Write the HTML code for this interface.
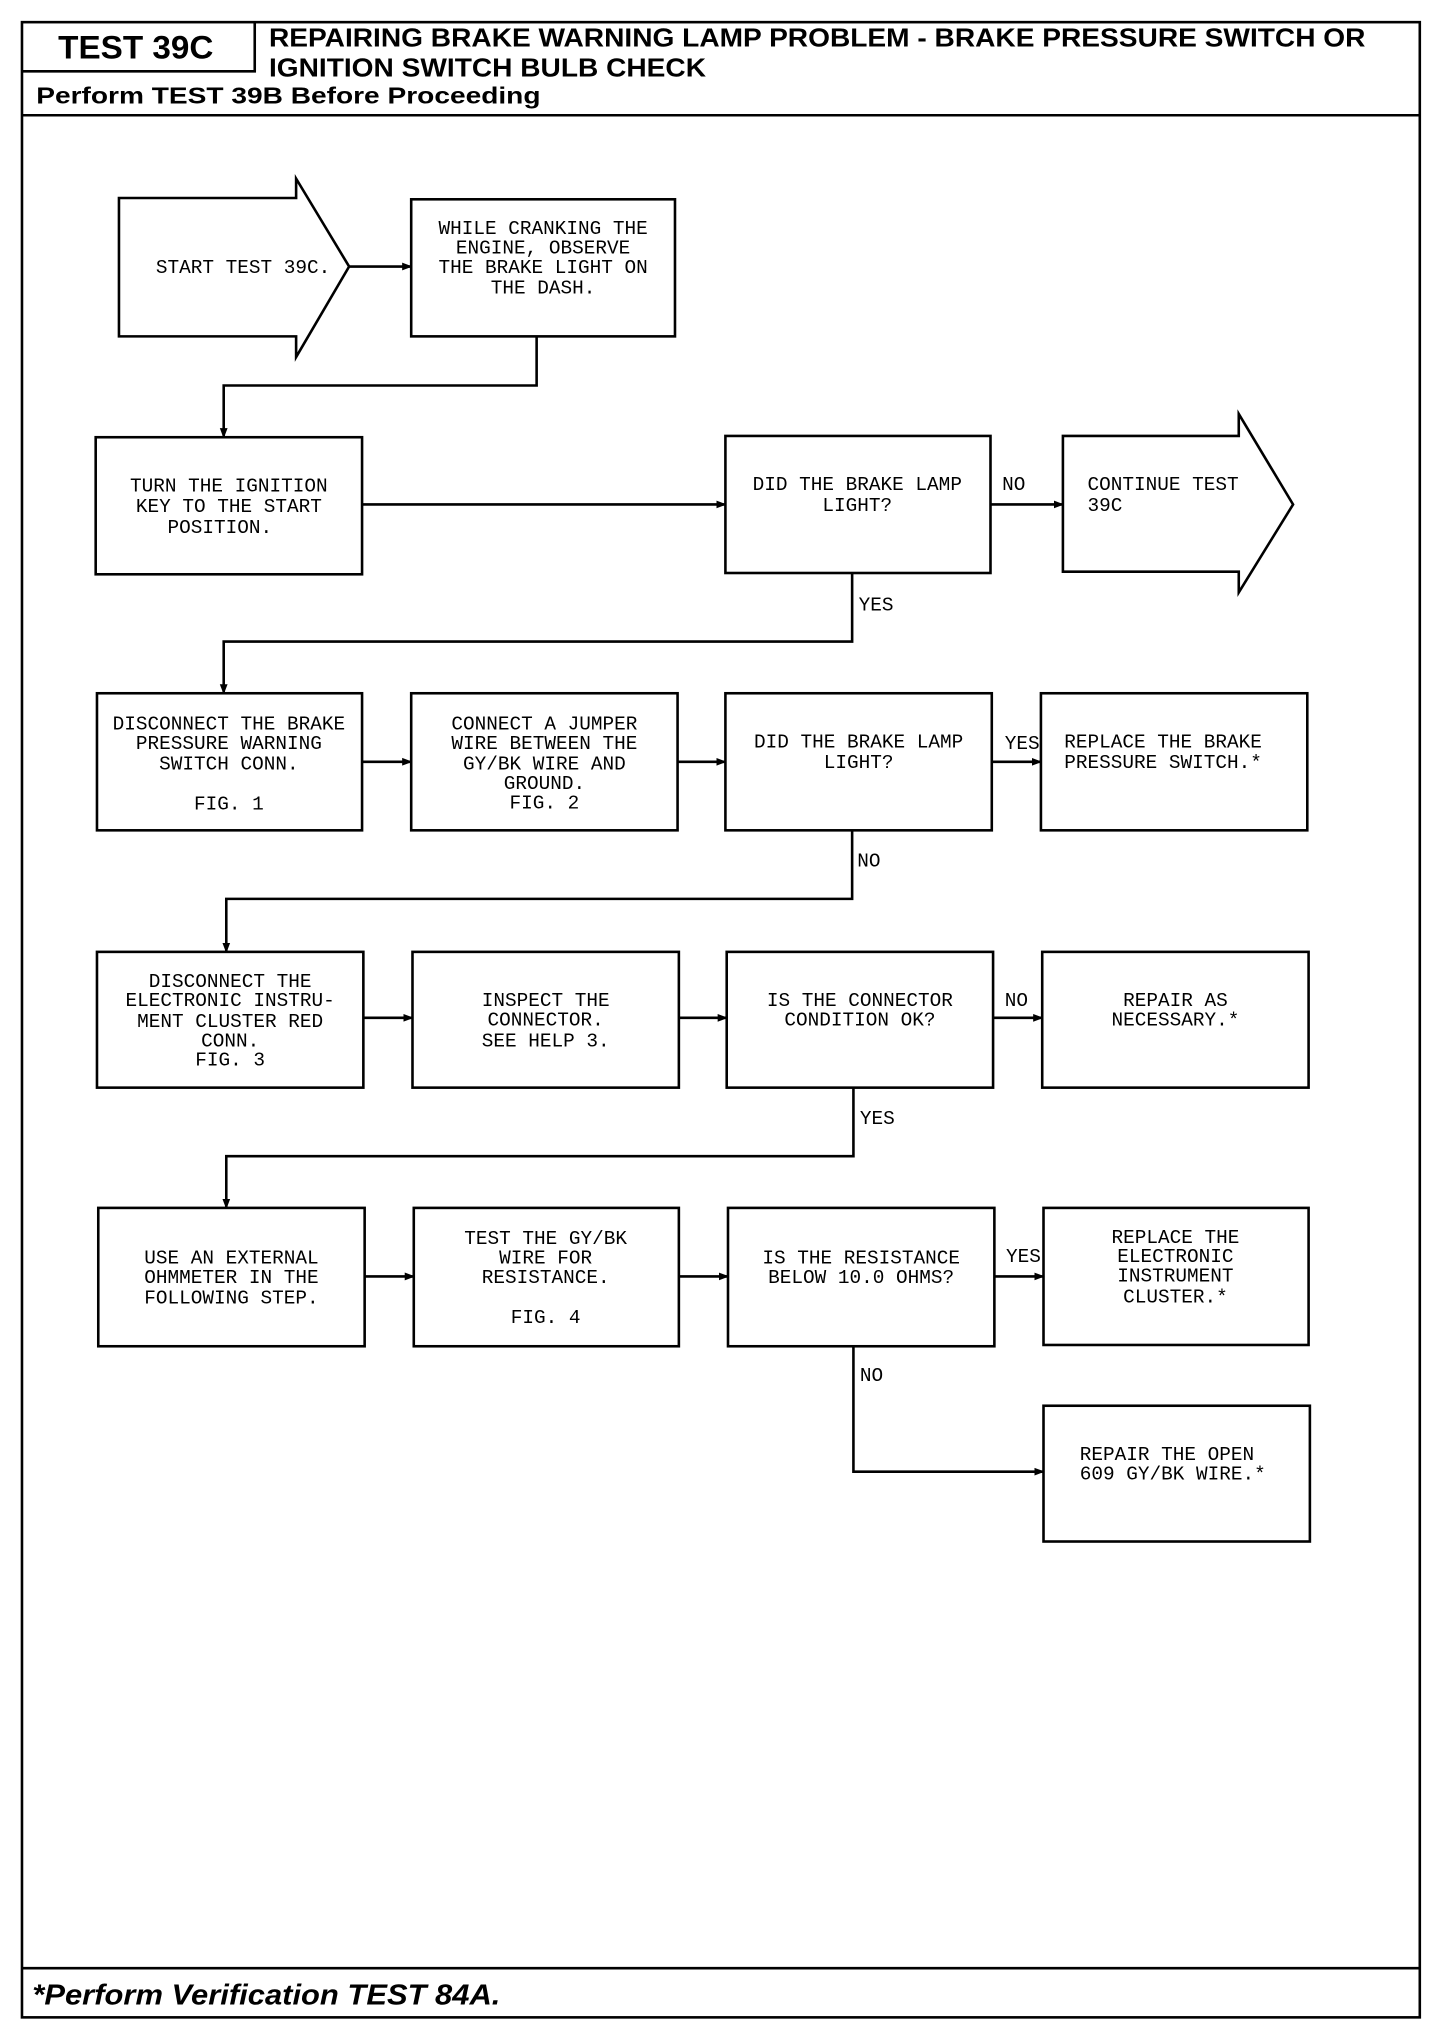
<!DOCTYPE html>
<html><head><meta charset="utf-8"><style>
html,body{margin:0;padding:0;background:#fff;}
svg{display:block;}
.t{font-family:"Liberation Mono",monospace;font-size:15px;fill:#000;}
.h{font-family:"Liberation Sans",sans-serif;font-weight:bold;fill:#000;}
</style></head><body>
<svg width="1456" height="2024" viewBox="0 0 1126 1565" xmlns="http://www.w3.org/2000/svg">
<defs><marker id="a" markerWidth="8" markerHeight="8" refX="7" refY="4" orient="auto" markerUnits="userSpaceOnUse"><path d="M0,1 L8,4 L0,7 z" fill="#000"/></marker></defs>
<g fill="none" stroke="#000" stroke-width="2">
<rect x="17" y="17" width="1081" height="1543"/>
<line x1="17" y1="89" x2="1098" y2="89"/>
<polyline points="17,55 197,55 197,17"/>
<line x1="17" y1="1522" x2="1098" y2="1522"/>
<!-- start arrow -->
<polygon points="92,153 229,153 229,138 270,206 229,276 229,260 92,260"/>
<rect x="318" y="154" width="204" height="106"/>
<rect x="74" y="338" width="206" height="106"/>
<rect x="561" y="337" width="205" height="106"/>
<polygon points="822,337 958,337 958,320 1000,390 958,458 958,442 822,442"/>
<rect x="75" y="536" width="205" height="106"/>
<rect x="318" y="536" width="206" height="106"/>
<rect x="561" y="536" width="206" height="106"/>
<rect x="805" y="536" width="206" height="106"/>
<rect x="75" y="736" width="206" height="105"/>
<rect x="319" y="736" width="206" height="105"/>
<rect x="562" y="736" width="206" height="105"/>
<rect x="806" y="736" width="206" height="105"/>
<rect x="76" y="934" width="206" height="107"/>
<rect x="320" y="934" width="205" height="107"/>
<rect x="563" y="934" width="206" height="107"/>
<rect x="807" y="934" width="205" height="106"/>
<rect x="807" y="1087" width="206" height="105"/>
</g>
<g fill="none" stroke="#000" stroke-width="2" marker-end="url(#a)">
<line x1="270" y1="206" x2="318" y2="206"/>
<polyline points="415,260 415,298 173,298 173,338"/>
<line x1="280" y1="390" x2="561" y2="390"/>
<line x1="766" y1="390" x2="822" y2="390"/>
<polyline points="659,443 659,496 173,496 173,536"/>
<line x1="280" y1="589" x2="318" y2="589"/>
<line x1="524" y1="589" x2="561" y2="589"/>
<line x1="767" y1="589" x2="805" y2="589"/>
<polyline points="659,642 659,695 175,695 175,736"/>
<line x1="281" y1="787" x2="319" y2="787"/>
<line x1="525" y1="787" x2="562" y2="787"/>
<line x1="768" y1="787" x2="806" y2="787"/>
<polyline points="660,841 660,894 175,894 175,934"/>
<line x1="282" y1="987" x2="320" y2="987"/>
<line x1="525" y1="987" x2="563" y2="987"/>
<line x1="769" y1="987" x2="807" y2="987"/>
<polyline points="660,1041 660,1138 807,1138"/>
</g>
<text class="h" x="45" y="45" font-size="25" textLength="120" lengthAdjust="spacingAndGlyphs">TEST 39C</text>
<text class="h" x="208" y="36" font-size="20" textLength="848" lengthAdjust="spacingAndGlyphs">REPAIRING BRAKE WARNING LAMP PROBLEM - BRAKE PRESSURE SWITCH OR</text>
<text class="h" x="208" y="59" font-size="20" textLength="338" lengthAdjust="spacingAndGlyphs">IGNITION SWITCH BULB CHECK</text>
<text class="h" x="28" y="80" font-size="18" textLength="390" lengthAdjust="spacingAndGlyphs">Perform TEST 39B Before Proceeding</text>
<text class="h" x="25" y="1550" font-size="22" font-style="italic" textLength="362" lengthAdjust="spacingAndGlyphs">*Perform Verification TEST 84A.</text>
<g class="t" text-anchor="middle">
<text x="188" y="211">START TEST 39C.</text>
<text x="420" y="181">WHILE CRANKING THE</text><text x="420" y="196">ENGINE, OBSERVE</text><text x="420" y="211">THE BRAKE LIGHT ON</text><text x="420" y="227">THE DASH.</text>
<text x="177" y="380">TURN THE IGNITION</text><text x="177" y="396">KEY TO THE START</text><text x="170" y="412">POSITION.</text>
<text x="663" y="379">DID THE BRAKE LAMP</text><text x="663" y="395">LIGHT?</text>
<text x="177" y="564">DISCONNECT THE BRAKE</text><text x="177" y="579">PRESSURE WARNING</text><text x="177" y="595">SWITCH CONN.</text><text x="177" y="626">FIG. 1</text>
<text x="421" y="564">CONNECT A JUMPER</text><text x="421" y="579">WIRE BETWEEN THE</text><text x="421" y="595">GY/BK WIRE AND</text><text x="421" y="610">GROUND.</text><text x="421" y="625">FIG. 2</text>
<text x="664" y="578">DID THE BRAKE LAMP</text><text x="664" y="594">LIGHT?</text>
<text x="178" y="763">DISCONNECT THE</text><text x="178" y="778">ELECTRONIC INSTRU-</text><text x="178" y="794">MENT CLUSTER RED</text><text x="178" y="809">CONN.</text><text x="178" y="824">FIG. 3</text>
<text x="422" y="778">INSPECT THE</text><text x="422" y="793">CONNECTOR.</text><text x="422" y="809">SEE HELP 3.</text>
<text x="665" y="778">IS THE CONNECTOR</text><text x="665" y="793">CONDITION OK?</text>
<text x="909" y="778">REPAIR AS</text><text x="909" y="793">NECESSARY.*</text>
<text x="179" y="977">USE AN EXTERNAL</text><text x="179" y="992">OHMMETER IN THE</text><text x="179" y="1008">FOLLOWING STEP.</text>
<text x="422" y="962">TEST THE GY/BK</text><text x="422" y="977">WIRE FOR</text><text x="422" y="992">RESISTANCE.</text><text x="422" y="1023">FIG. 4</text>
<text x="666" y="977">IS THE RESISTANCE</text><text x="666" y="992">BELOW 10.0 OHMS?</text>
<text x="909" y="961">REPLACE THE</text><text x="909" y="976">ELECTRONIC</text><text x="909" y="991">INSTRUMENT</text><text x="909" y="1007">CLUSTER.*</text>
</g>
<g class="t">
<text x="841" y="379">CONTINUE TEST</text><text x="841" y="395">39C</text>
<text x="823" y="578">REPLACE THE BRAKE</text><text x="823" y="594">PRESSURE SWITCH.*</text>
<text x="835" y="1129">REPAIR THE OPEN</text><text x="835" y="1144">609 GY/BK WIRE.*</text>
<text x="775" y="379">NO</text>
<text x="664" y="472">YES</text>
<text x="777" y="579">YES</text>
<text x="663" y="670">NO</text>
<text x="777" y="778">NO</text>
<text x="665" y="869">YES</text>
<text x="778" y="976">YES</text>
<text x="665" y="1068">NO</text>
</g>
</svg>
</body></html>
